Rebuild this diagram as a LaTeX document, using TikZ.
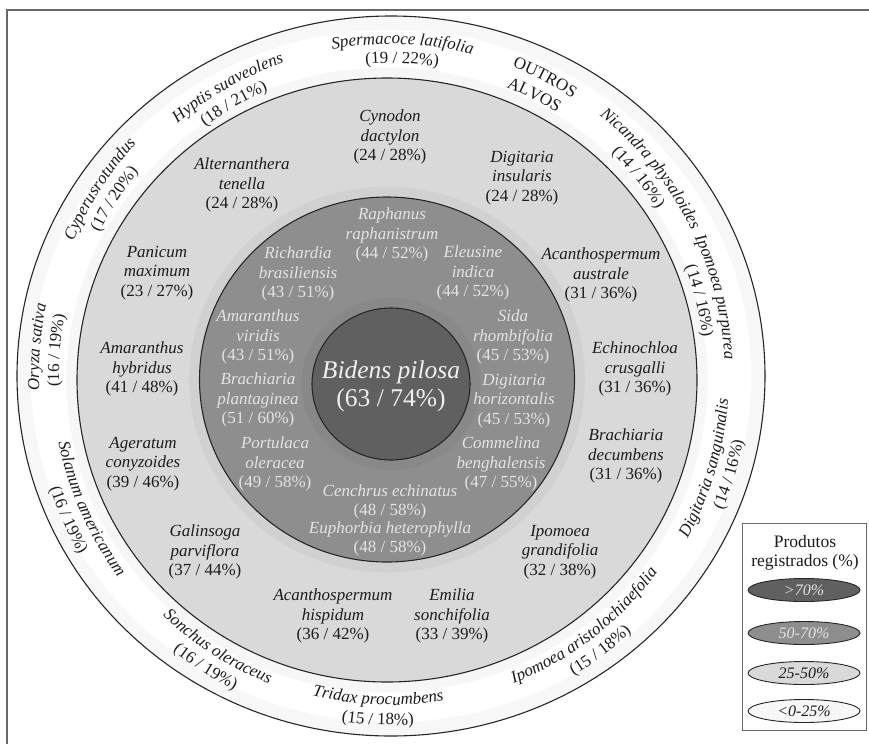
\documentclass[tikz,border=0pt]{standalone}
\usepackage{fontspec}
\setmainfont{Liberation Serif}
\usetikzlibrary{decorations.text,calc,shapes.geometric}
\definecolor{innerc}{RGB}{96,96,96}
\definecolor{darkring}{RGB}{142,142,142}
\definecolor{lightring}{RGB}{217,217,217}
\definecolor{framec}{RGB}{105,105,105}
\definecolor{txtdark}{RGB}{28,28,28}
\definecolor{txtlight}{RGB}{228,228,228}
\newcommand{\lbl}[3]{\textit{#1}\\\textit{#2}\\(#3\%)}
\newcommand{\ringit}{\color{txtdark}\itshape\fontsize{17}{20}\selectfont}
\newcommand{\ringup}{\color{txtdark}\upshape\fontsize{17}{20}\selectfont}
% text on the outer ring, tops pointing outwards (read clockwise)
\newcommand{\ringtop}[4]{%
  \pgfmathsetmacro{\myrad}{#2-5}%
  \pgfmathsetmacro{\myangS}{#1+32}%
  \pgfmathsetmacro{\myangE}{#1-32}%
  \path[decorate, decoration={text along path, text align=center, text={|#3|#4}}]
    ($(C)+(\myangS:\myrad)$) arc[start angle=\myangS, end angle=\myangE, radius=\myrad];}
% text on the outer ring, tops pointing inwards (read counter-clockwise)
\newcommand{\ringbot}[4]{%
  \pgfmathsetmacro{\myrad}{#2+5}%
  \pgfmathsetmacro{\myangS}{#1-32}%
  \pgfmathsetmacro{\myangE}{#1+32}%
  \path[decorate, decoration={text along path, text align=center, text={|#3|#4}}]
    ($(C)+(\myangS:\myrad)$) arc[start angle=\myangS, end angle=\myangE, radius=\myrad];}
\begin{document}
\begin{tikzpicture}[x=1pt,y=1pt,
  ringline/.style={draw=black!85, line width=1.1pt},
  shadowline/.style={draw=black, opacity=0.022, line width=1.3pt},
  lightlbl/.style={align=center, text=txtdark, font=\fontsize{17}{19.5}\selectfont, inner sep=0pt},
  darklbl/.style={align=center, text=txtlight, font=\fontsize{17}{19.5}\selectfont, inner sep=0pt},
  legell/.style={ellipse, draw=black!85, line width=0.9pt, minimum width=112pt, minimum height=23pt, inner sep=0pt, font=\fontsize{16}{18}\selectfont\itshape}]
\useasboundingbox (0,0) rectangle (869,-744);
\fill[white] (0,0) rectangle (869,-744);
% frame
\draw[framec, line width=1.4pt] (7,-744) -- (7,-10) -- (869,-10);
% centres
\coordinate (C) at (391,-376);
\coordinate (CL) at (387,-380);
\coordinate (CD) at (387,-379.5);
\coordinate (CI) at (391,-384);
% outer white disk with soft inner shadow
\fill[white] (C) ellipse [x radius=374, y radius=360];
\foreach \k in {1,...,12}{\draw[shadowline] (C) ellipse [x radius=374-\k*1.1, y radius=360-\k*1.1];}
% light ring
\foreach \k in {1,...,10}{\draw[shadowline] (CL) ellipse [x radius=310+\k*1.0, y radius=302+\k*1.0];}
\fill[lightring] (CL) ellipse [x radius=310, y radius=302];
% dark ring
\foreach \k in {1,...,10}{\draw[shadowline] (CD) ellipse [x radius=187.5+\k*1.0, y radius=182.5+\k*1.0];}
\fill[darkring] (CD) ellipse [x radius=187.5, y radius=182.5];
% inner disk
\foreach \k in {1,...,10}{\draw[shadowline] (CI) ellipse [x radius=79+\k*1.0, y radius=76+\k*1.0];}
\fill[innerc] (CI) ellipse [x radius=79, y radius=76];
% outlines
\draw[ringline] (C) ellipse [x radius=374, y radius=360];
\draw[ringline] (CL) ellipse [x radius=310, y radius=302];
\draw[ringline] (CD) ellipse [x radius=187.5, y radius=182.5];
\draw[ringline] (CI) ellipse [x radius=79, y radius=76];

% centre
\node[align=center, text=white!94!black, font=\fontsize{25.5}{28}\selectfont, inner sep=0pt] (bid) at (391,-386) {\textit{Bidens pilosa}\\(63 / 74\%)};

% dark ring labels
\node[darklbl] (rap) at (392,-235) {\lbl{Raphanus}{raphanistrum}{44 / 52}};
\node[darklbl] (ric) at (298,-274) {\lbl{Richardia}{brasiliensis}{43 / 51}};
\node[darklbl] (ele) at (473,-273) {\lbl{Eleusine}{indica}{44 / 52}};
\node[darklbl] (amv) at (258,-337) {\lbl{Amaranthus}{viridis}{43 / 51}};
\node[darklbl] (sid) at (513,-337) {\lbl{Sida}{rhombifolia}{45 / 53}};
\node[darklbl] (brp) at (258,-400) {\lbl{Brachiaria}{plantaginea}{51 / 60}};
\node[darklbl] (dih) at (514,-401) {\lbl{Digitaria}{horizontalis}{45 / 53}};
\node[darklbl] (por) at (275,-464) {\lbl{Portulaca}{oleracea}{49 / 58}};
\node[darklbl] (com) at (501,-464) {\lbl{Commelina}{benghalensis}{47 / 55}};
\node[darklbl, font=\fontsize{17}{18.4}\selectfont] (cen) at (390,-520.5) {\textit{Cenchrus echinatus}\\(48 / 58\%)\\\textit{Euphorbia heterophylla}\\(48 / 58\%)};

% light ring labels
\node[lightlbl] (alt) at (242,-185) {\lbl{Alternanthera}{tenella}{24 / 28}};
\node[lightlbl] (cyn) at (390,-137) {\lbl{Cynodon}{dactylon}{24 / 28}};
\node[lightlbl] (dig) at (522,-178) {\lbl{Digitaria}{insularis}{24 / 28}};
\node[lightlbl] (pan) at (157,-273) {\lbl{Panicum}{maximum}{23 / 27}};
\node[lightlbl] (aca) at (601,-275) {\lbl{Acanthospermum}{australe}{31 / 36}};
\node[lightlbl] (amh) at (142,-369) {\lbl{Amaranthus}{hybridus}{41 / 48}};
\node[lightlbl] (ech) at (635,-369) {\lbl{Echinochloa}{crusgalli}{31 / 36}};
\node[lightlbl] (age) at (143,-464) {\lbl{Ageratum}{conyzoides}{39 / 46}};
\node[lightlbl] (brd) at (626,-456) {\lbl{Brachiaria}{decumbens}{31 / 36}};
\node[lightlbl] (gal) at (205,-552) {\lbl{Galinsoga}{parviflora}{37 / 44}};
\node[lightlbl] (ipg) at (560,-552) {\lbl{Ipomoea}{grandifolia}{32 / 38}};
\node[lightlbl] (ach) at (333,-616) {\lbl{Acanthospermum}{hispidum}{36 / 42}};
\node[lightlbl] (emi) at (452,-616) {\lbl{Emilia}{sonchifolia}{33 / 39}};

% outer ring labels (upper part)
\ringtop{147.3}{350}{\ringit}{Cyperusrotundus}
\ringtop{147.4}{330}{\ringup}{(17 / 20{\%})}
\ringtop{119.5}{336}{\ringit}{Hyptis suaveolens}
\ringtop{120}{316}{\ringup}{(18 / 21{\%})}
\ringtop{88}{337}{\ringit}{Spermacoce latifolia}
\ringtop{88}{318}{\ringup}{(19 / 22{\%})}
\ringtop{62.7}{337}{\ringup}{OUTROS}
\ringtop{63}{316}{\ringup}{ALVOS}
\ringtop{38.6}{339}{\ringit}{Nicandra physaloides}
\ringtop{38.8}{319}{\ringup}{(14 / 16{\%})}
\ringtop{13.7}{339}{\ringit}{Ipomoea purpurea}
\ringtop{13.7}{319}{\ringup}{(14 / 16{\%})}
\ringtop{175.3}{357}{\ringit}{Oryza sativa}
\ringtop{175.6}{337}{\ringup}{(16 / 19{\%})}
% outer ring labels (lower part)
\ringbot{203.8}{334}{\ringit}{Solanum americanum}
\ringbot{204}{354}{\ringup}{(16 / 19{\%})}
\ringbot{237.4}{326}{\ringit}{Sonchus oleraceus}
\ringbot{237.5}{346}{\ringup}{(16 / 19{\%})}
\ringbot{267.7}{324}{\ringit}{Tridax procumbens}
\ringbot{267.8}{344}{\ringup}{(15 / 18{\%})}
\ringbot{307.7}{326}{\ringit}{Ipomoea aristolochiaefolia}
\ringbot{307.3}{346}{\ringup}{(15 / 18{\%})}
\ringbot{343.7}{333}{\ringit}{Digitaria sanguinalis}
\ringbot{343.8}{353}{\ringup}{(14 / 16{\%})}

% legend
\node[draw=framec, line width=0.9pt, fill=white, minimum width=124pt, minimum height=207pt, inner sep=0pt] (leg) at (804,-626.5) {};
\node[align=center, text=txtdark, font=\fontsize{17.5}{19.5}\selectfont, inner sep=0pt] (legt) at (805,-553) {Produtos\\registrados (\%)};
\node[legell, fill=innerc, text=txtlight] (l1) at (804,-590) {>70\%};
\node[legell, fill=darkring, text=txtlight] (l2) at (804,-633) {50-70\%};
\node[legell, fill=lightring, text=txtdark] (l3) at (804,-673) {25-50\%};
\node[legell, fill=white!97!black, text=txtdark] (l4) at (804,-711) {<0-25\%};
\end{tikzpicture}
\end{document}
